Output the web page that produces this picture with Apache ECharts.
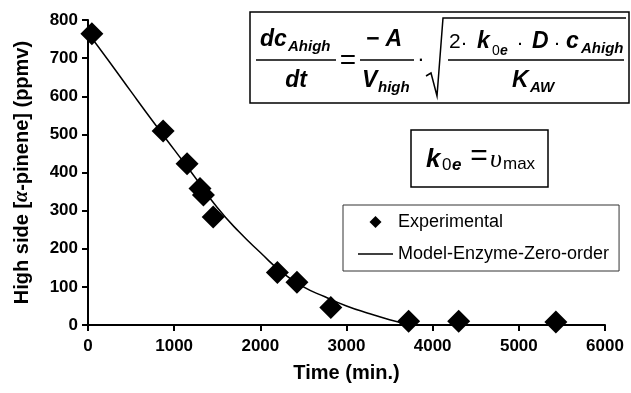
<!DOCTYPE html>
<html>
<head>
<meta charset="utf-8">
<script src="https://cdn.jsdelivr.net/npm/echarts@6/dist/echarts.min.js"></script>
<style>
  html, body { margin: 0; padding: 0; background: #fff; }
  #main { width: 631px; height: 393px; }
</style>
</head>
<body>
<div id="main"></div>
<script>
// experimental points (time in min, conc in ppmv)
var expTime = [45, 872, 1150, 1300, 1340, 1453, 2198, 2425, 2818, 3721, 4302, 5430];
var expConc = [764, 509, 423, 358, 341, 283, 138, 112, 46, 10, 10, 8];

// model curve
var modelTime = [0, 250, 500, 750, 1000, 1250, 1500, 1750, 2000, 2250, 2500, 2750, 3000, 3250, 3500, 3700];
var modelConc = [766, 690, 612, 535, 460, 385, 308, 245, 190, 138, 100, 74, 50, 31, 14, 3];

var xTicks = [0, 1000, 2000, 3000, 4000, 5000, 6000];
var yTicks = [0, 100, 200, 300, 400, 500, 600, 700, 800];

function zip(a, b) {
  var out = [];
  for (var i = 0; i < a.length; i++) out.push([a[i], b[i]]);
  return out;
}

var F = '"Liberation Sans", Arial, sans-serif';
var BI = function (s) { return 'italic bold ' + s + 'px ' + F; };
var RG = function (s) { return s + 'px ' + F; };

// small helper for the formula text pieces
function txt(x, y, text, font, align) {
  return {
    type: 'text', x: x, y: y, z: 20,
    style: { text: text, font: font, fill: '#000', textAlign: align || 'left', align: align || 'left', textVerticalAlign: 'middle', verticalAlign: 'middle' }
  };
}
function hline(x1, x2, y) {
  return { type: 'line', z: 20, shape: { x1: x1, y1: y, x2: x2, y2: y }, style: { stroke: '#000', lineWidth: 1.5 } };
}

var myChart = echarts.init(document.getElementById('main'));
var option = {
  animation: false,
  backgroundColor: '#fff',
  grid: { left: 88, right: 26, top: 20, bottom: 68 },
  legend: {
    orient: 'vertical',
    left: 343, top: 205,
    padding: [8, 10, 8, 15],
    itemGap: 14,
    itemWidth: 35,
    itemHeight: 12,
    symbolKeepAspect: true,
    borderColor: '#333',
    borderWidth: 1,
    backgroundColor: '#fff',
    textStyle: { fontFamily: F, fontSize: 18, color: '#000' },
    data: [
      { name: 'Experimental', icon: 'path://M0,-1 L1,0 L0,1 L-1,0 Z' },
      { name: 'Model-Enzyme-Zero-order', icon: 'path://M0,0 L35,0 L35,1.6 L0,1.6 Z' }
    ]
  },
  xAxis: {
    type: 'value',
    min: 0, max: 6000, interval: 1000,
    name: 'Time (min.)',
    nameLocation: 'middle',
    nameGap: 38,
    nameTextStyle: { fontFamily: F, fontSize: 20, fontWeight: 'bold', color: '#000' },
    axisLine: { lineStyle: { color: '#000', width: 2 } },
    axisTick: { length: 6, lineStyle: { color: '#000', width: 2 } },
    axisLabel: { margin: 13, fontFamily: F, fontSize: 17, fontWeight: 'bold', color: '#000', formatter: function (v) { return String(v); } },
    splitLine: { show: false }
  },
  yAxis: {
    type: 'value',
    min: 0, max: 800, interval: 100,
    name: 'High side [{a|α}-pinene] (ppmv)',
    nameLocation: 'middle',
    nameGap: 56,
    nameTextStyle: {
      fontFamily: F, fontSize: 20, fontWeight: 'bold', color: '#000',
      rich: { a: { fontFamily: '"Liberation Serif", serif', fontStyle: 'italic', fontSize: 20, color: '#000' } }
    },
    axisLine: { show: true, lineStyle: { color: '#000', width: 2 } },
    axisTick: { show: true, length: 6, lineStyle: { color: '#000', width: 2 } },
    axisLabel: { margin: 10, fontFamily: F, fontSize: 17, fontWeight: 'bold', color: '#000', formatter: function (v) { return String(v); } },
    splitLine: { show: false }
  },
  series: [{
    name: 'Model-Enzyme-Zero-order',
    type: 'line',
    smooth: true,
    symbol: 'none',
    lineStyle: { color: '#000', width: 1.5 },
    itemStyle: { color: '#000' },
    z: 2,
    data: zip(modelTime, modelConc)
  }, {
    name: 'Experimental',
    type: 'scatter',
    symbol: 'diamond',
    symbolSize: 23,
    itemStyle: { color: '#000', opacity: 1 },
    z: 3,
    data: zip(expTime, expConc)
  }],
  graphic: [
    // big formula box
    { type: 'rect', z: 10, shape: { x: 250, y: 12, width: 379, height: 91 }, style: { fill: '#fff', stroke: '#000', lineWidth: 1.5 } },
    txt(260, 40, 'dc', BI(23)),
    txt(288, 47, 'Ahigh', BI(15)),
    hline(256, 336, 60),
    txt(296, 81, 'dt', BI(23), 'center'),
    txt(348, 61, '=', RG(28), 'center'),
    txt(384, 40, '\u2212 A', BI(23), 'center'),
    hline(360, 414, 60),
    txt(362, 81, 'V', BI(23)),
    txt(378, 88, 'high', BI(15)),
    txt(421, 60, '\u00b7', RG(22), 'center'),
    { type: 'polyline', z: 20, shape: { points: [[426, 76], [431, 73], [437, 96], [443, 18], [626, 18]] }, style: { stroke: '#000', lineWidth: 1.5, fill: null } },
    txt(449, 42, '2', RG(21)),
    txt(464, 43, '\u00b7', RG(21), 'center'),
    txt(477, 42, 'k', BI(23)),
    txt(492, 51, '0', RG(14)),
    txt(500, 51, 'e', BI(14)),
    txt(520, 43, '\u00b7', RG(21), 'center'),
    txt(532, 42, 'D', BI(23)),
    txt(557, 43, '\u00b7', RG(21), 'center'),
    txt(566, 42, 'c', BI(23)),
    txt(581, 49, 'Ahigh', BI(15)),
    hline(448, 624, 60),
    txt(512, 81, 'K', BI(23)),
    txt(530, 88, 'AW', BI(15)),
    // small box
    { type: 'rect', z: 10, shape: { x: 411, y: 130, width: 137, height: 57 }, style: { fill: '#fff', stroke: '#000', lineWidth: 1.5 } },
    txt(426, 160, 'k', BI(26)),
    txt(442, 165, '0', RG(17)),
    txt(452, 165, 'e', BI(17)),
    txt(479, 157, '=', RG(30), 'center'),
    txt(490, 160, '\u03c5', 'italic 26px "Liberation Serif", serif'),
    txt(503, 164, 'max', RG(17))
  ]
};
myChart.setOption(option);
</script>
</body>
</html>
